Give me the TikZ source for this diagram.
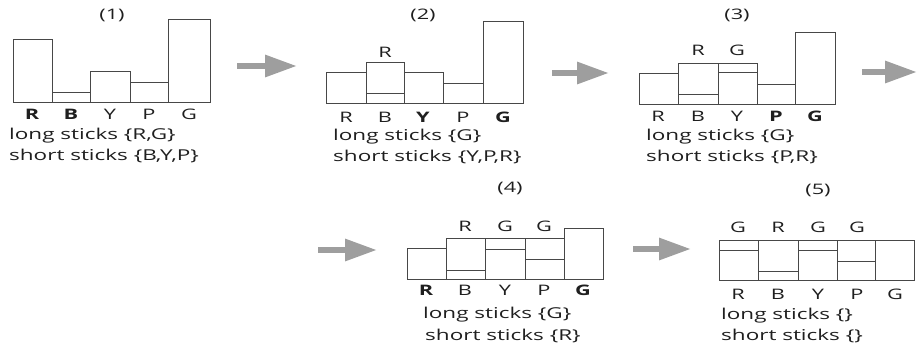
\documentclass[tikz,border=0pt]{standalone}
\usepackage{fontspec}
\setmainfont[FakeStretch=1.5]{Open Sans}
\usetikzlibrary{arrows.meta}
\begin{document}
\begin{tikzpicture}[x=1pt,y=-1pt,
  stick/.style={draw=black!72,line width=0.9pt},
  lbl/.style={font=\fontsize{14.5}{17}\selectfont,text=black!88,inner sep=0pt},
  txt/.style={lbl,font=\fontsize{15}{17}\selectfont,anchor=west},
  flow/.style={draw=black!38,line width=6pt,-{Triangle[length=32pt,width=21pt]}}
]
\useasboundingbox (0,0) rectangle (917,343);

% ---------- stage (1) ----------
\node[lbl] (t1) at (112,15) {(1)};
\draw[stick] (13,102) rectangle (52,39);
\draw[stick] (52,102) rectangle (90,92);
\draw[stick] (90,102) rectangle (130,71);
\draw[stick] (130,102) rectangle (168,82);
\draw[stick] (168,102) rectangle (210,19);
\node[lbl] (a1) at (32,114) {\textbf{R}};
\node[lbl] (b1) at (71,114) {\textbf{B}};
\node[lbl] (c1) at (110,114) {Y};
\node[lbl] (d1) at (149,114) {P};
\node[lbl] (e1) at (189,114) {G};
\node[txt] (l1) at (9,136) {long sticks \{R,G\}};
\node[txt] (s1) at (9,156) {short sticks \{B,Y,P\}};

% ---------- stage (2) ----------
\node[lbl] (t2) at (423,15) {(2)};
\draw[stick] (326,103) rectangle (366,72);
\draw[stick] (366,103) rectangle (404,62);
\draw[stick] (366,93) -- (404,93);
\draw[stick] (404,103) rectangle (443,72);
\draw[stick] (443,103) rectangle (483,83);
\draw[stick] (483,103) rectangle (523,21);
\node[lbl] (u2) at (385,52) {R};
\node[lbl] (a2) at (346,117) {R};
\node[lbl] (b2) at (385,117) {B};
\node[lbl] (c2) at (423,117) {\textbf{Y}};
\node[lbl] (d2) at (463,117) {P};
\node[lbl] (e2) at (503,117) {\textbf{G}};
\node[txt] (l2) at (333,137) {long sticks \{G\}};
\node[txt] (s2) at (333,157) {short sticks \{Y,P,R\}};

% ---------- stage (3) ----------
\node[lbl] (t3) at (737,15) {(3)};
\draw[stick] (639,104) rectangle (678,73);
\draw[stick] (678,104) rectangle (718,63);
\draw[stick] (678,94) -- (718,94);
\draw[stick] (718,104) rectangle (757,63);
\draw[stick] (718,72) -- (757,72);
\draw[stick] (757,104) rectangle (795,84);
\draw[stick] (795,104) rectangle (835,32);
\node[lbl] (u3) at (698,50) {R};
\node[lbl] (v3) at (737,50) {G};
\node[lbl] (a3) at (658,116) {R};
\node[lbl] (b3) at (698,116) {B};
\node[lbl] (c3) at (737,116) {Y};
\node[lbl] (d3) at (776,116) {\textbf{P}};
\node[lbl] (e3) at (815,116) {\textbf{G}};
\node[txt] (l3) at (646,137) {long sticks \{G\}};
\node[txt] (s3) at (646,157) {short sticks \{P,R\}};

% ---------- stage (4) ----------
\node[lbl] (t4) at (510,188) {(4)};
\draw[stick] (407,279) rectangle (446,248);
\draw[stick] (446,279) rectangle (485,238);
\draw[stick] (446,270) -- (485,270);
\draw[stick] (485,279) rectangle (525,238);
\draw[stick] (485,249) -- (525,249);
\draw[stick] (525,279) rectangle (564,238);
\draw[stick] (525,259) -- (564,259);
\draw[stick] (564,279) rectangle (603,228);
\node[lbl] (u4) at (465,226) {R};
\node[lbl] (v4) at (505,226) {G};
\node[lbl] (w4) at (544,226) {G};
\node[lbl] (a4) at (426,290) {\textbf{R}};
\node[lbl] (b4) at (465,290) {B};
\node[lbl] (c4) at (505,290) {Y};
\node[lbl] (d4) at (544,290) {P};
\node[lbl] (e4) at (583,290) {\textbf{G}};
\node[txt] (l4) at (423,315) {long sticks \{G\}};
\node[txt] (s4) at (425,336) {short sticks \{R\}};

% ---------- stage (5) ----------
\node[lbl] (t5) at (818,190) {(5)};
\draw[stick] (719,280) rectangle (758,240);
\draw[stick] (719,250) -- (758,250);
\draw[stick] (758,280) rectangle (798,240);
\draw[stick] (758,271) -- (798,271);
\draw[stick] (798,280) rectangle (837,240);
\draw[stick] (798,250) -- (837,250);
\draw[stick] (837,280) rectangle (875,240);
\draw[stick] (837,261) -- (875,261);
\draw[stick] (875,280) rectangle (914,240);
\node[lbl] (u5) at (738,227) {G};
\node[lbl] (v5) at (778,227) {R};
\node[lbl] (w5) at (818,227) {G};
\node[lbl] (x5) at (857,227) {G};
\node[lbl] (a5) at (738,294) {R};
\node[lbl] (b5) at (778,294) {B};
\node[lbl] (c5) at (818,294) {Y};
\node[lbl] (d5) at (857,294) {P};
\node[lbl] (e5) at (895,294) {G};
\node[txt] (l5) at (721,316) {long sticks \{\}};
\node[txt] (s5) at (721,336) {short sticks \{\}};

% ---------- step arrows ----------
\coordinate (f1a) at (237,66);  \coordinate (f1b) at (297,66);
\coordinate (f2a) at (552,73);  \coordinate (f2b) at (609,73);
\coordinate (f3a) at (862,72);  \coordinate (f3b) at (917,72);
\coordinate (f4a) at (318,250); \coordinate (f4b) at (377,250);
\coordinate (f5a) at (633,249); \coordinate (f5b) at (691,249);
\draw[flow] (f1a) -- (f1b);
\draw[flow] (f2a) -- (f2b);
\draw[flow] (f3a) -- (f3b);
\draw[flow] (f4a) -- (f4b);
\draw[flow] (f5a) -- (f5b);
\end{tikzpicture}
\end{document}
